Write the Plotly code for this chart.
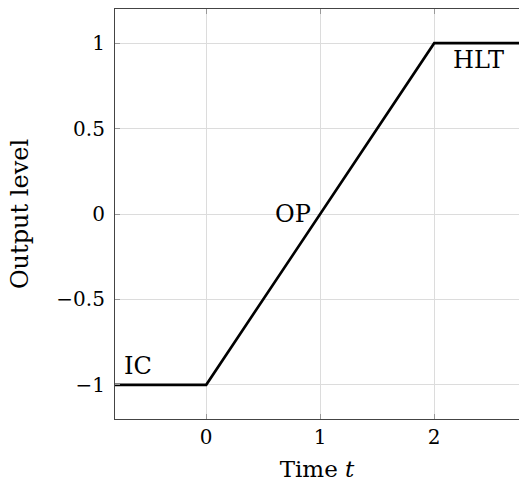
import plotly.graph_objects as go

t_vals = [-0.8, 0, 2, 2.8]
out_vals = [-1, -1, 1, 1]
x_ticks = [0, 1, 2]
y_ticks = [-1, -0.5, 0, 0.5, 1]
y_tick_text = ["\u22121", "\u22120.5", "0", "0.5", "1"]
labels = ["IC", "OP", "HLT"]
label_x = [-0.74, 0.94, 2.15]
label_y = [-0.89, 0.0, 0.9]
label_anchor = ["left", "right", "left"]

FONT = "DejaVu Serif"

fig = go.Figure()
fig.add_trace(go.Scatter(x=t_vals, y=out_vals, mode="lines",
                         line=dict(color="black", width=2.6), showlegend=False))

for txt, lx, ly, anc in zip(labels, label_x, label_y, label_anchor):
    fig.add_annotation(x=lx, y=ly, text=txt, showarrow=False, xanchor=anc,
                       yanchor="middle", font=dict(family=FONT, size=24, color="black"))

fig.update_layout(
    width=519, height=487,
    margin=dict(l=115, r=0, t=9, b=68),
    plot_bgcolor="white", paper_bgcolor="white",
    font=dict(family=FONT, size=20, color="black"),
)
fig.update_xaxes(range=[-0.8, 2.744], tickvals=x_ticks, ticktext=[str(v) for v in x_ticks],
                 showgrid=True, gridcolor="#dcdcdc", gridwidth=1,
                 showline=True, linecolor="#444", linewidth=1.2, mirror="ticks",
                 ticks="inside", ticklen=5, tickcolor="#999", zeroline=False,
                 tickfont=dict(family=FONT, size=20, color="black"),
                 title=dict(text="Time <i>t</i>", standoff=12,
                            font=dict(family=FONT, size=23, color="black")))
fig.update_yaxes(range=[-1.2, 1.2], tickvals=y_ticks, ticktext=y_tick_text,
                 showgrid=True, gridcolor="#dcdcdc", gridwidth=1,
                 showline=True, linecolor="#444", linewidth=1.2, mirror=False,
                 ticks="inside", ticklen=5, tickcolor="#999", zeroline=False,
                 ticklabelstandoff=5,
                 tickfont=dict(family=FONT, size=20, color="black"),
                 title=dict(text="Output level", standoff=20,
                            font=dict(family=FONT, size=24, color="black")))
fig.write_html("out.html", config={"displayModeBar": False},
               post_script="document.body.style.margin='0';document.body.style.overflow='hidden';")
